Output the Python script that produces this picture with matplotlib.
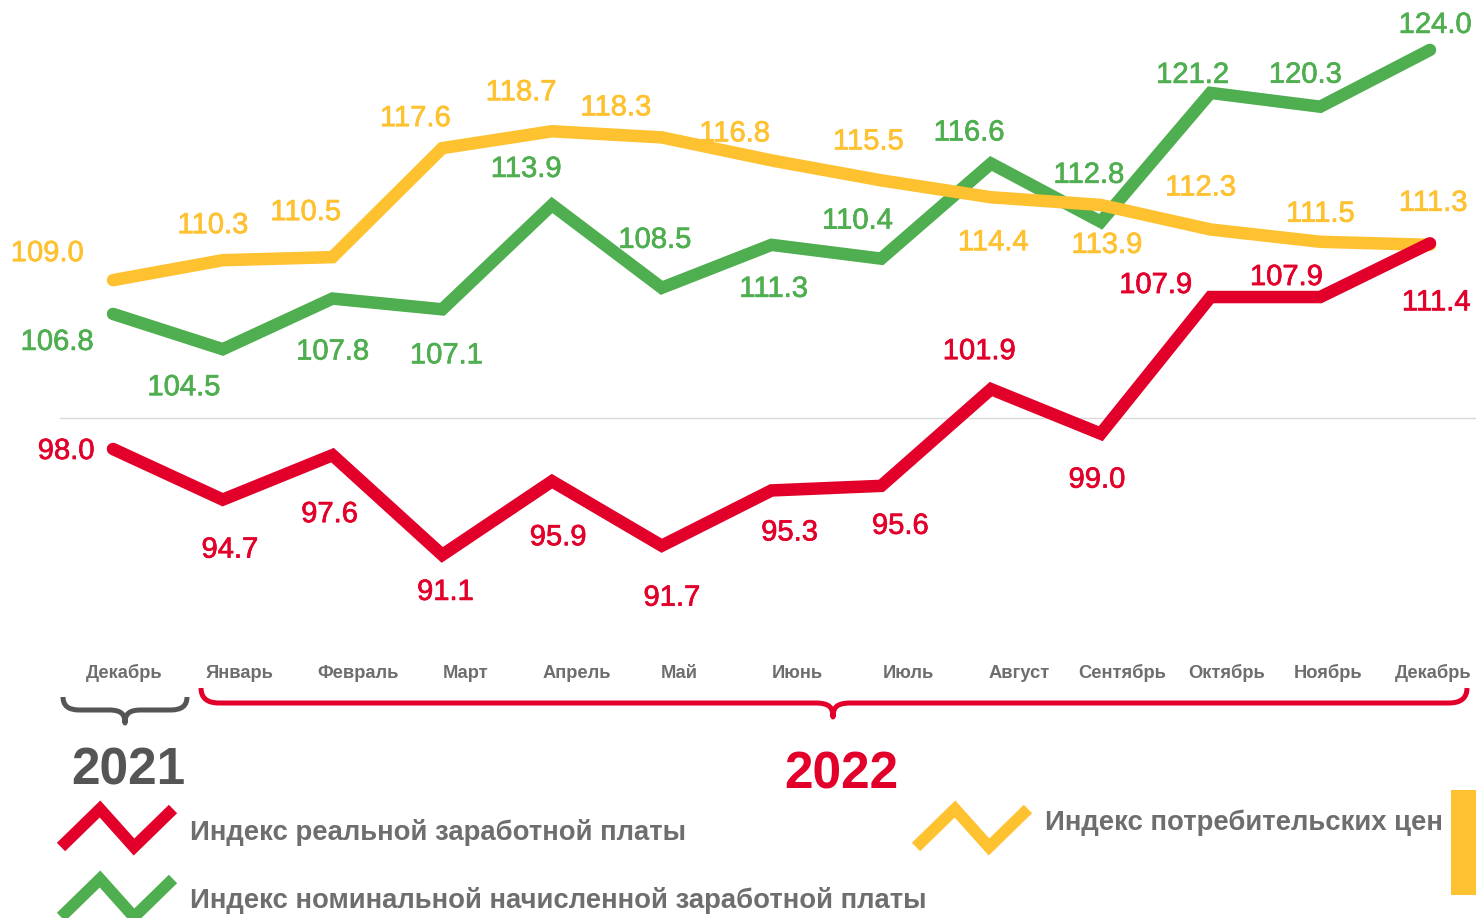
import matplotlib
matplotlib.use("Agg")
import matplotlib.pyplot as plt
import matplotlib.patheffects as pe
from matplotlib.path import Path
from matplotlib.patches import PathPatch, Rectangle

plt.rcParams['font.family'] = ['Liberation Sans', 'DejaVu Sans']

# ---------------- data ----------------
months = ["Декабрь", "Январь", "Февраль", "Март", "Апрель", "Май", "Июнь",
          "Июль", "Август", "Сентябрь", "Октябрь", "Ноябрь", "Декабрь"]
real_wage = [98.0, 94.7, 97.6, 91.1, 95.9, 91.7, 95.3, 95.6, 101.9, 99.0, 107.9, 107.9, 111.4]
nominal_wage = [106.8, 104.5, 107.8, 107.1, 113.9, 108.5, 111.3, 110.4, 116.6, 112.8, 121.2, 120.3, 124.0]
cpi = [109.0, 110.3, 110.5, 117.6, 118.7, 118.3, 116.8, 115.5, 114.4, 113.9, 112.3, 111.5, 111.3]
baseline = 100.0
year_labels = ["2021", "2022"]
legend_labels = ["Индекс реальной заработной платы",
                 "Индекс номинальной начисленной заработной платы",
                 "Индекс потребительских цен"]

# ---------------- style / layout ----------------
RED = "#E2002A"
GREEN = "#4FAE4F"
YELLOW = "#FEC12F"
GRAY_TXT = "#6E6E6E"
DARK = "#555555"

W, H = 1476, 918
fig = plt.figure(figsize=(W / 100, H / 100), dpi=100)

# main chart axes mapped to pixel layout
x0_px, dx_px = 113, 109.75
y0_px, v0, dy_px = 449, 98.0, 15.35
ax = fig.add_axes([0, 0, 1, 1])
ax.set_xlim(-x0_px / dx_px, (W - x0_px) / dx_px)
ax.set_ylim(v0 - (H - y0_px) / dy_px, v0 + y0_px / dy_px)
ax.axis("off")

xs = list(range(len(months)))

ax.plot([(60 - x0_px) / dx_px, (W - x0_px) / dx_px], [baseline, baseline],
        color="#D9D9D9", lw=1.0, zorder=1)

line_kw = dict(lw=9, solid_capstyle="round", solid_joinstyle="miter")
ax.plot(xs, cpi, color=YELLOW, zorder=3, **line_kw)
ax.plot(xs, nominal_wage, color=GREEN, zorder=2, **line_kw)
ax.plot(xs, real_wage, color=RED, zorder=4, **line_kw)

# label offsets in pixels (dx, dy; dy positive = up)
cpi_off = [(-66, 29), (-10, 37), (-27, 47), (-27, 32), (-31, 41), (-46, 32), (-37, 29),
           (-13, 41), (2, -43), (6, -38), (-10, 44), (0, 30), (3, 44)]
nom_off = [(-56, -26), (-39, -36), (0, -51), (4, -44), (-26, 38), (-7, 50), (2, -42),
           (-24, 40), (-22, 33), (-12, 49), (-18, 20), (-15, 34), (5, 27)]
real_off = [(-47, 0), (7, -48), (-3, -57), (3, -35), (6, -54), (10, -50), (18, -40),
            (19, -38), (-12, 40), (-4, -44), (-55, 14), (-34, 22), (6, -57)]

def lab(value, x, off, color):
    t = ax.annotate(f"{value:.1f}", (x, value), xytext=(off[0], off[1] - 2),
                    textcoords="offset pixels", ha="center", va="center",
                    fontsize=21, color=color, zorder=6)
    t.set_path_effects([pe.withStroke(linewidth=0.5, foreground=color)])

for i in xs:
    lab(cpi[i], i, cpi_off[i], YELLOW)
    lab(nominal_wage[i], i, nom_off[i], GREEN)
    lab(real_wage[i], i, real_off[i], RED)

# overlay axes in pixel coordinates for decorations
ov = fig.add_axes([0, 0, 1, 1])
ov.set_xlim(0, W)
ov.set_ylim(H, 0)
ov.axis("off")

month_px = [124, 240, 358, 466, 577, 679, 797, 908, 1019, 1122, 1227, 1328, 1433]
for m, px in zip(months, month_px):
    ov.text(px, 673, m, ha="center", va="center", fontsize=13.2, fontweight="bold", color=GRAY_TXT)

# braces
def brace(x1, x2, xt, ytop, yline, ytip, r, color, lw):
    verts = [(x1, ytop), (x1, yline), (x1 + r, yline),
             (xt - r, yline),
             (xt - 4, yline), (xt, yline + 4), (xt, ytip),
             (xt, yline + 4), (xt + 4, yline), (xt + r, yline),
             (x2 - r, yline),
             (x2, yline), (x2, ytop)]
    codes = [Path.MOVETO, Path.CURVE3, Path.CURVE3,
             Path.LINETO,
             Path.CURVE4, Path.CURVE4, Path.CURVE4,
             Path.CURVE4, Path.CURVE4, Path.CURVE4,
             Path.LINETO,
             Path.CURVE3, Path.CURVE3]
    ov.add_patch(PathPatch(Path(verts, codes), fill=False, edgecolor=color, lw=lw,
                           capstyle="butt", joinstyle="round"))

brace(63, 187, 125, 697, 710, 723, 16, DARK, 3.6)
brace(201, 1467, 833, 688, 703, 717, 18, RED, 3.6)

ov.text(128, 771, year_labels[0], ha="center", va="center", fontsize=37,
        fontweight="bold", color=DARK)
ov.text(841, 775, year_labels[1], ha="center", va="center", fontsize=37,
        fontweight="bold", color=RED)

# legend icons
def zig(x, y, color):
    px = [x, x + 39, x + 73, x + 112]
    py = [y + 38, y, y + 38, y]
    ov.plot(px, py, color=color, lw=8.5, solid_capstyle="butt", solid_joinstyle="miter")

zig(61, 809, RED)
zig(61, 879, GREEN)
zig(916, 809, YELLOW)

ov.text(190, 832, legend_labels[0], ha="left", va="center", fontsize=19.8,
        fontweight="bold", color=GRAY_TXT)
ov.text(190, 900, legend_labels[1], ha="left", va="center", fontsize=19.8,
        fontweight="bold", color=GRAY_TXT)
ov.text(1045, 823, legend_labels[2], ha="left", va="center", fontsize=19.8,
        fontweight="bold", color=GRAY_TXT)

ov.add_patch(Rectangle((1451, 790), 30, 105, color=YELLOW, lw=0))

fig.savefig("out.png", dpi=100)
